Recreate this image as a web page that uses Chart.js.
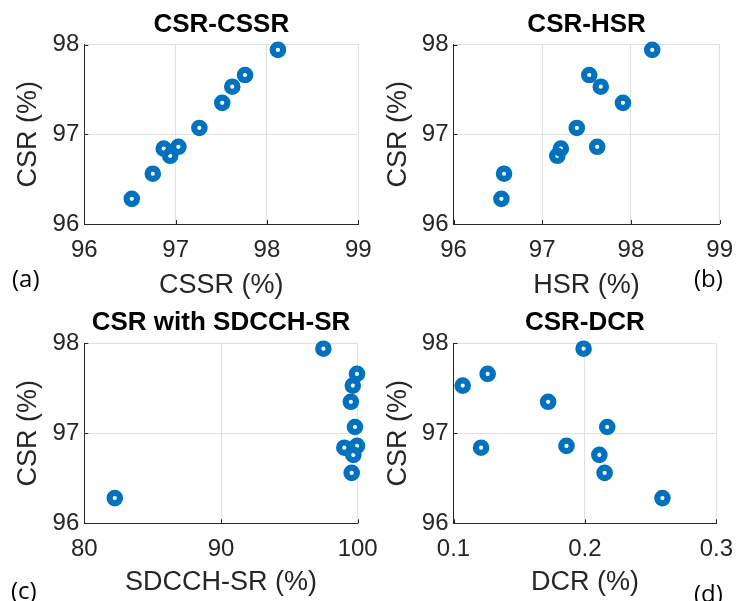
<!DOCTYPE html>
<html>
<head>
<meta charset="utf-8">
<title>CSR correlations</title>
<script src="https://cdn.jsdelivr.net/npm/chart.js@4.4.1/dist/chart.umd.min.js"></script>
<style>
  body { margin: 0; background: #fff; width: 745px; height: 601px; position: relative; overflow: hidden; }
  .panel { position: absolute; }
  .tag { position: absolute; font-family: 'Open Sans', sans-serif; font-size: 24px; line-height: 1; color: #000; }
</style>
</head>
<body>
<div class="panel" style="left:0;top:0;width:390px;height:300px"><canvas id="chart-a"></canvas></div>
<div class="panel" style="left:0;top:300px;width:390px;height:301px"><canvas id="chart-c"></canvas></div>
<div class="panel" style="left:372px;top:0;width:373px;height:300px"><canvas id="chart-b"></canvas></div>
<div class="panel" style="left:372px;top:300px;width:373px;height:301px"><canvas id="chart-d"></canvas></div>
<div class="tag" style="left:12px;top:266px">(a)</div>
<div class="tag" style="left:694px;top:266px">(b)</div>
<div class="tag" style="left:11px;top:578px">(c)</div>
<div class="tag" style="left:694px;top:581px">(d)</div>
<script>
// call setup rate against each of the other KPIs
const csrValues = [96.28, 96.56, 96.76, 96.84, 96.86, 97.07, 97.35, 97.53, 97.66, 97.94];
const cssrValues = [96.52, 96.75, 96.94, 96.87, 97.03, 97.26, 97.51, 97.62, 97.76, 98.12];
const hsrValues = [96.54, 96.57, 97.17, 97.21, 97.62, 97.39, 97.91, 97.66, 97.53, 98.24];
const sdcchValues = [82.23, 99.56, 99.68, 99.02, 99.95, 99.8, 99.5, 99.64, 99.95, 97.49];
const dcrValues = [0.259, 0.215, 0.211, 0.121, 0.186, 0.217, 0.172, 0.107, 0.126, 0.199];

const csrTicks = [96, 97, 98];
const BLUE = '#0072BD';
const AXIS = '#262626';
const GRID = '#e0e0e0';
const FONT = 'Liberation Sans, Arial, sans-serif';

// MATLAB style: short tick marks pointing into the plot
const innerTicks = {
  id: 'innerTicks',
  afterDraw(chart) {
    const { ctx, chartArea, scales } = chart;
    ctx.save();
    ctx.strokeStyle = AXIS;
    ctx.lineWidth = 1;
    ctx.beginPath();
    scales.x.ticks.forEach((tick) => {
      const x = Math.round(scales.x.getPixelForValue(tick.value)) + 0.5;
      ctx.moveTo(x, chartArea.bottom);
      ctx.lineTo(x, chartArea.bottom - 4);
    });
    scales.y.ticks.forEach((tick) => {
      const y = Math.round(scales.y.getPixelForValue(tick.value)) + 0.5;
      ctx.moveTo(chartArea.left, y);
      ctx.lineTo(chartArea.left + 4, y);
    });
    ctx.stroke();
    ctx.restore();
  },
};

function toPoints(xs) {
  return xs.map((x, i) => ({ x, y: csrValues[i] }));
}

function makePanel(id, cfg) {
  return new Chart(document.getElementById(id), {
    type: 'scatter',
    data: {
      datasets: [{
        data: toPoints(cfg.xValues),
        borderColor: BLUE,
        backgroundColor: 'rgba(0,0,0,0)',
        pointRadius: 5.2,
        pointBorderWidth: 6.2,
        pointHoverRadius: 5.2,
        clip: false,
      }],
    },
    plugins: [innerTicks],
    options: {
      responsive: true,
      maintainAspectRatio: false,
      animation: false,
      events: [],
      layout: { padding: { left: 0, right: cfg.padRight, top: 0, bottom: 0 } },
      plugins: {
        legend: { display: false },
        tooltip: { enabled: false },
        title: {
          display: true,
          text: cfg.title,
          fullSize: false,
          color: '#000',
          font: { family: FONT, size: 26, weight: 'bold', lineHeight: 1.2 },
          padding: cfg.titlePad,
        },
      },
      scales: {
        x: {
          type: 'linear',
          min: cfg.xMin,
          max: cfg.xMax,
          afterFit: (scale) => { scale.height = cfg.xHeight; },
          afterBuildTicks: (scale) => { scale.ticks = cfg.xTicks.map((value) => ({ value })); },
          ticks: {
            color: AXIS,
            padding: 12,
            maxRotation: 0,
            font: { family: FONT, size: 24, lineHeight: 1.2 },
            callback: (v) => String(v),
          },
          grid: { color: GRID, drawTicks: false },
          border: { display: true, color: AXIS, width: 1 },
          title: {
            display: true,
            text: cfg.xLabel,
            color: AXIS,
            font: { family: FONT, size: 27, lineHeight: 1.2 },
            padding: { top: 0, bottom: cfg.xTitlePad },
          },
        },
        y: {
          type: 'linear',
          min: 96,
          max: 98,
          afterFit: (scale) => { scale.width = cfg.yWidth; },
          afterBuildTicks: (scale) => { scale.ticks = csrTicks.map((value) => ({ value })); },
          ticks: {
            color: AXIS,
            padding: 5,
            font: { family: FONT, size: 24, lineHeight: 1.2 },
          },
          grid: { color: GRID, drawTicks: false },
          border: { display: true, color: AXIS, width: 1 },
          title: {
            display: true,
            text: 'CSR (%)',
            color: AXIS,
            font: { family: FONT, size: 27, lineHeight: 1.2 },
            padding: { top: cfg.yTitlePad, bottom: 0 },
          },
        },
      },
    },
  });
}

makePanel('chart-a', {
  title: 'CSR-CSSR', xLabel: 'CSSR (%)', xValues: cssrValues,
  xMin: 96, xMax: 99, xTicks: [96, 97, 98, 99],
  padRight: 31.7, yWidth: 84.3, xHeight: 76, titlePad: { top: 9.5, bottom: 3.8 },
  xTitlePad: -2, yTitlePad: 12.8,
});

makePanel('chart-b', {
  title: 'CSR-HSR', xLabel: 'HSR (%)', xValues: hsrValues,
  xMin: 96, xMax: 99, xTicks: [96, 97, 98, 99],
  padRight: 19, yWidth: 81.5, xHeight: 76, titlePad: { top: 9.5, bottom: 3.8 },
  xTitlePad: -2, yTitlePad: 10.3,
});

makePanel('chart-c', {
  title: 'CSR with SDCCH-SR', xLabel: 'SDCCH-SR (%)', xValues: sdcchValues,
  xMin: 80, xMax: 100, xTicks: [80, 90, 100],
  padRight: 32.3, yWidth: 84.3, xHeight: 77.7, titlePad: { top: 7, bottom: 5.1 },
  xTitlePad: 2, yTitlePad: 12.8,
});

makePanel('chart-d', {
  title: 'CSR-DCR', xLabel: 'DCR (%)', xValues: dcrValues,
  xMin: 0.1, xMax: 0.3, xTicks: [0.1, 0.2, 0.3],
  padRight: 19, yWidth: 81.5, xHeight: 77.7, titlePad: { top: 7, bottom: 5.1 },
  xTitlePad: 2, yTitlePad: 10.8,
});
</script>
</body>
</html>
